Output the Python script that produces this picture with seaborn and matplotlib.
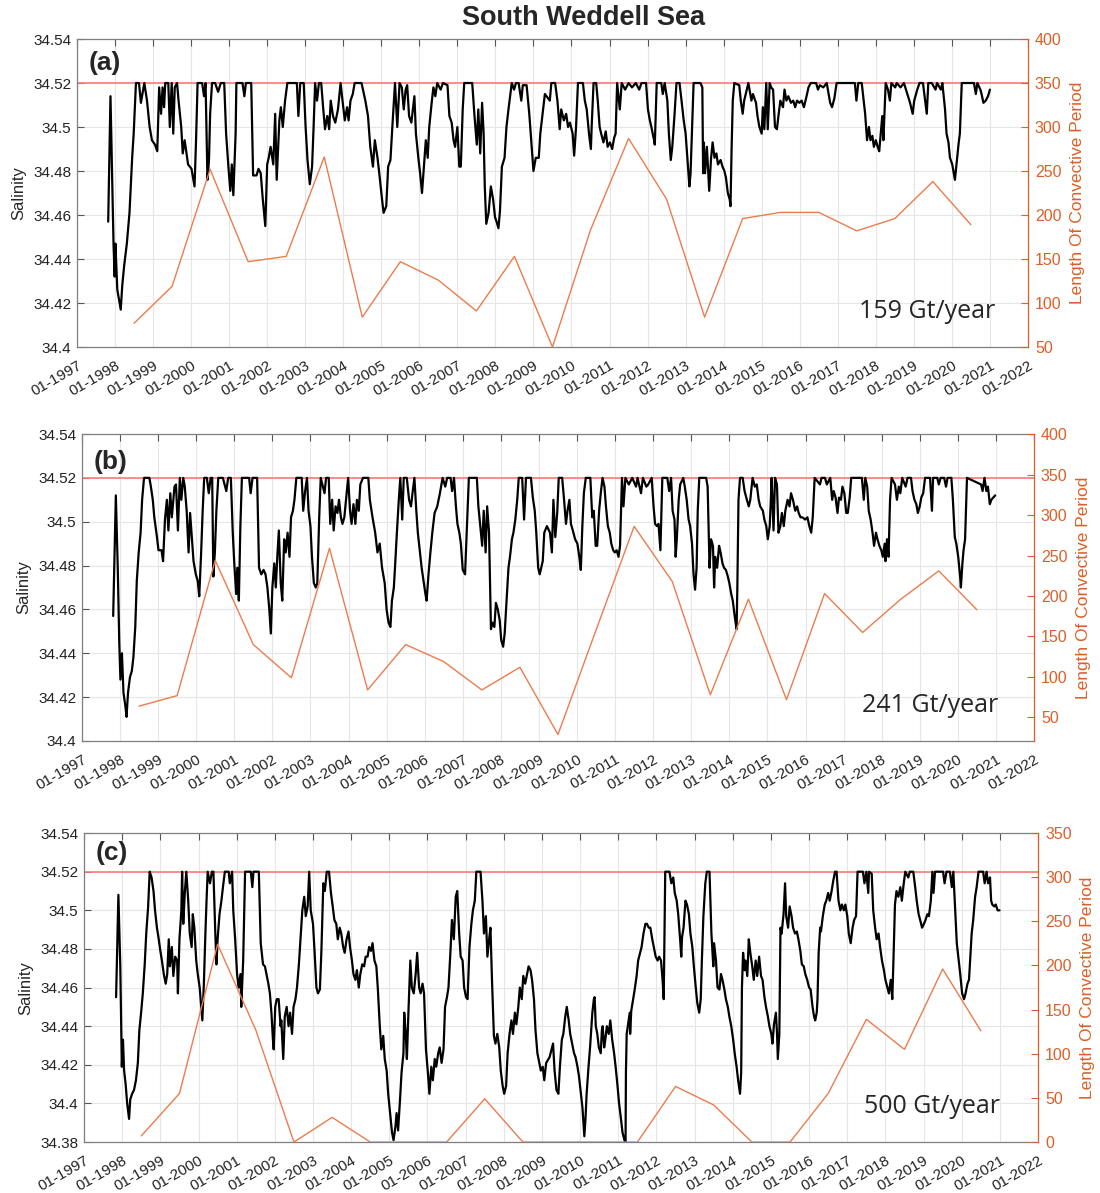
import matplotlib
matplotlib.use("Agg")
import matplotlib.pyplot as plt
import seaborn as sns

sns.set_theme(style="white")
plt.rcParams['font.family'] = ['Liberation Sans', 'DejaVu Sans']

THRESHOLD = 34.52
YEARS = list(range(1997, 2023))
CONV_YEARS = [1998.5, 1999.5, 2000.5, 2001.5, 2002.5, 2003.5, 2004.5, 2005.5,
              2006.5, 2007.5, 2008.5, 2009.5, 2010.5, 2011.5, 2012.5, 2013.5,
              2014.5, 2015.5, 2016.5, 2017.5, 2018.5, 2019.5, 2020.5]

# convective period length (days) per year
conv_a = [77, 119, 252, 147, 153, 266, 84, 147, 126, 91, 153, 50,
          183, 287, 218, 84, 196, 203, 203, 182, 196, 238, 189]
conv_b = [64, 77, 244, 140, 99, 259, 84, 140, 119, 84, 112, 29,
          158, 286, 218, 78, 196, 72, 203, 155, 196, 231, 183]
conv_c = [7, 55, 224, 127, 0, 28, 0, 0, 0, 49, 0, 0,
          0, 0, 63, 42, 0, 0, 55, 139, 105, 196, 126]

# salinity, panel (a) 159 Gt/year
sal_a_year = [
    1997.82, 1997.88, 1997.96, 1997.99, 1998.01, 1998.06, 1998.11, 1998.15, 1998.19, 1998.24,
    1998.31, 1998.38, 1998.45, 1998.49, 1998.55, 1998.63, 1998.68, 1998.77, 1998.84, 1998.91,
    1998.97, 1999.05, 1999.11, 1999.16, 1999.21, 1999.25, 1999.29, 1999.32, 1999.40, 1999.44,
    1999.49, 1999.53, 1999.57, 1999.63, 1999.67, 1999.74, 1999.78, 1999.83, 1999.92, 2000.01,
    2000.09, 2000.13, 2000.17, 2000.29, 2000.34, 2000.38, 2000.43, 2000.47, 2000.50, 2000.55,
    2000.63, 2000.71, 2000.78, 2000.87, 2000.92, 2000.98, 2001.03, 2001.07, 2001.11, 2001.17,
    2001.19, 2001.35, 2001.40, 2001.44, 2001.58, 2001.63, 2001.72, 2001.77, 2001.83, 2001.88,
    2001.95, 2002.00, 2002.04, 2002.09, 2002.16, 2002.21, 2002.25, 2002.32, 2002.36, 2002.41,
    2002.47, 2002.53, 2002.78, 2002.82, 2002.87, 2002.96, 2003.01, 2003.06, 2003.12, 2003.18,
    2003.22, 2003.26, 2003.31, 2003.36, 2003.42, 2003.47, 2003.52, 2003.58, 2003.63, 2003.67,
    2003.73, 2003.79, 2003.86, 2003.93, 2003.98, 2004.04, 2004.10, 2004.14, 2004.19, 2004.25,
    2004.30, 2004.48, 2004.58, 2004.65, 2004.71, 2004.78, 2004.83, 2004.90, 2004.94, 2005.02,
    2005.06, 2005.13, 2005.18, 2005.24, 2005.29, 2005.36, 2005.42, 2005.48, 2005.54, 2005.59,
    2005.64, 2005.68, 2005.73, 2005.79, 2005.87, 2005.91, 2005.98, 2006.02, 2006.07, 2006.12,
    2006.17, 2006.22, 2006.26, 2006.33, 2006.37, 2006.42, 2006.47, 2006.56, 2006.62, 2006.74,
    2006.79, 2006.85, 2006.90, 2006.94, 2007.00, 2007.05, 2007.09, 2007.14, 2007.18, 2007.39,
    2007.45, 2007.51, 2007.55, 2007.60, 2007.65, 2007.69, 2007.72, 2007.76, 2007.82, 2007.88,
    2007.94, 2007.99, 2008.03, 2008.08, 2008.12, 2008.17, 2008.24, 2008.29, 2008.35, 2008.43,
    2008.49, 2008.54, 2008.61, 2008.68, 2008.72, 2008.82, 2008.89, 2008.94, 2009.00, 2009.06,
    2009.14, 2009.18, 2009.30, 2009.43, 2009.47, 2009.57, 2009.63, 2009.69, 2009.73, 2009.80,
    2009.86, 2009.91, 2009.96, 2010.03, 2010.07, 2010.12, 2010.17, 2010.30, 2010.35, 2010.40,
    2010.46, 2010.51, 2010.53, 2010.58, 2010.65, 2010.69, 2010.74, 2010.78, 2010.84, 2010.90,
    2010.95, 2011.01, 2011.07, 2011.12, 2011.16, 2011.20, 2011.27, 2011.32, 2011.41, 2011.50,
    2011.59, 2011.69, 2011.78, 2011.84, 2011.96, 2012.01, 2012.06, 2012.10, 2012.17, 2012.19,
    2012.24, 2012.36, 2012.40, 2012.45, 2012.52, 2012.56, 2012.61, 2012.65, 2012.71, 2012.76,
    2012.84, 2012.88, 2012.95, 2013.00, 2013.05, 2013.10, 2013.13, 2013.18, 2013.21, 2013.39,
    2013.44, 2013.46, 2013.48, 2013.51, 2013.56, 2013.62, 2013.67, 2013.71, 2013.76, 2013.81,
    2013.85, 2013.92, 2013.97, 2014.02, 2014.06, 2014.11, 2014.16, 2014.18, 2014.21, 2014.24,
    2014.28, 2014.41, 2014.45, 2014.50, 2014.54, 2014.61, 2014.65, 2014.73, 2014.77, 2014.85,
    2014.89, 2014.94, 2015.00, 2015.03, 2015.07, 2015.12, 2015.16, 2015.21, 2015.25, 2015.30,
    2015.35, 2015.40, 2015.44, 2015.49, 2015.56, 2015.60, 2015.65, 2015.70, 2015.77, 2015.83,
    2015.88, 2015.93, 2015.99, 2016.05, 2016.11, 2016.18, 2016.23, 2016.29, 2016.43, 2016.48,
    2016.53, 2016.62, 2016.71, 2016.80, 2016.85, 2016.91, 2016.97, 2017.12, 2017.45, 2017.49,
    2017.54, 2017.63, 2017.68, 2017.72, 2017.77, 2017.82, 2017.86, 2017.91, 2017.95, 2018.00,
    2018.05, 2018.09, 2018.13, 2018.17, 2018.20, 2018.26, 2018.32, 2018.37, 2018.41, 2018.51,
    2018.55, 2018.65, 2018.74, 2018.83, 2018.90, 2018.97, 2019.01, 2019.09, 2019.15, 2019.24,
    2019.34, 2019.38, 2019.47, 2019.57, 2019.61, 2019.71, 2019.75, 2019.82, 2019.86, 2019.91,
    2019.95, 2020.01, 2020.05, 2020.08, 2020.14, 2020.18, 2020.21, 2020.26, 2020.58, 2020.63,
    2020.67, 2020.75, 2020.78, 2020.83, 2020.89, 2020.95, 2021.00]
sal_a_val = [
    34.457, 34.514, 34.447, 34.432, 34.447, 34.426, 34.421, 34.417, 34.428, 34.437,
    34.447, 34.461, 34.486, 34.497, 34.520, 34.520, 34.511, 34.520, 34.512, 34.500,
    34.494, 34.492, 34.489, 34.518, 34.506, 34.518, 34.509, 34.520, 34.520, 34.500,
    34.520, 34.497, 34.518, 34.520, 34.512, 34.500, 34.488, 34.494, 34.483, 34.481,
    34.473, 34.494, 34.520, 34.520, 34.514, 34.520, 34.476, 34.485, 34.506, 34.520,
    34.520, 34.516, 34.520, 34.520, 34.497, 34.482, 34.471, 34.483, 34.469, 34.497,
    34.520, 34.520, 34.514, 34.520, 34.520, 34.478, 34.478, 34.481, 34.479, 34.468,
    34.455, 34.483, 34.486, 34.491, 34.483, 34.506, 34.476, 34.503, 34.509, 34.500,
    34.512, 34.520, 34.520, 34.505, 34.520, 34.520, 34.500, 34.485, 34.474, 34.482,
    34.500, 34.520, 34.512, 34.520, 34.520, 34.509, 34.499, 34.505, 34.499, 34.512,
    34.505, 34.502, 34.508, 34.520, 34.512, 34.503, 34.509, 34.503, 34.512, 34.515,
    34.520, 34.520, 34.512, 34.505, 34.491, 34.482, 34.494, 34.486, 34.480, 34.467,
    34.461, 34.464, 34.482, 34.485, 34.500, 34.520, 34.500, 34.520, 34.518, 34.508,
    34.517, 34.519, 34.505, 34.502, 34.514, 34.497, 34.485, 34.479, 34.470, 34.482,
    34.494, 34.486, 34.500, 34.512, 34.518, 34.514, 34.520, 34.517, 34.520, 34.519,
    34.505, 34.502, 34.494, 34.491, 34.500, 34.482, 34.482, 34.508, 34.520, 34.520,
    34.505, 34.492, 34.508, 34.488, 34.511, 34.497, 34.473, 34.456, 34.461, 34.473,
    34.467, 34.459, 34.457, 34.454, 34.462, 34.482, 34.486, 34.500, 34.509, 34.520,
    34.517, 34.520, 34.520, 34.512, 34.519, 34.519, 34.506, 34.494, 34.480, 34.486,
    34.486, 34.497, 34.515, 34.512, 34.520, 34.520, 34.512, 34.499, 34.508, 34.503,
    34.506, 34.500, 34.502, 34.497, 34.487, 34.500, 34.520, 34.520, 34.512, 34.508,
    34.497, 34.490, 34.500, 34.520, 34.520, 34.512, 34.500, 34.497, 34.493, 34.498,
    34.491, 34.493, 34.490, 34.495, 34.497, 34.520, 34.508, 34.520, 34.517, 34.520,
    34.518, 34.520, 34.517, 34.520, 34.520, 34.508, 34.503, 34.500, 34.494, 34.492,
    34.520, 34.520, 34.515, 34.520, 34.512, 34.497, 34.485, 34.491, 34.506, 34.520,
    34.520, 34.514, 34.503, 34.497, 34.485, 34.473, 34.479, 34.505, 34.520, 34.520,
    34.518, 34.479, 34.493, 34.479, 34.491, 34.471, 34.486, 34.493, 34.486, 34.488,
    34.483, 34.485, 34.482, 34.480, 34.477, 34.470, 34.467, 34.464, 34.491, 34.512,
    34.520, 34.519, 34.512, 34.506, 34.512, 34.517, 34.520, 34.512, 34.515, 34.511,
    34.505, 34.500, 34.497, 34.509, 34.499, 34.520, 34.499, 34.520, 34.518, 34.517,
    34.500, 34.499, 34.505, 34.512, 34.509, 34.517, 34.512, 34.514, 34.511, 34.512,
    34.509, 34.512, 34.511, 34.512, 34.509, 34.514, 34.518, 34.520, 34.520, 34.517,
    34.519, 34.518, 34.520, 34.511, 34.509, 34.513, 34.520, 34.520, 34.520, 34.512,
    34.520, 34.520, 34.512, 34.506, 34.494, 34.500, 34.494, 34.496, 34.491, 34.494,
    34.491, 34.489, 34.497, 34.505, 34.494, 34.520, 34.517, 34.512, 34.520, 34.518,
    34.520, 34.518, 34.520, 34.515, 34.511, 34.506, 34.512, 34.517, 34.520, 34.520,
    34.506, 34.520, 34.520, 34.517, 34.520, 34.517, 34.520, 34.508, 34.497, 34.493,
    34.486, 34.483, 34.479, 34.476, 34.486, 34.493, 34.497, 34.520, 34.520, 34.515,
    34.520, 34.517, 34.515, 34.511, 34.512, 34.514, 34.517]

# salinity, panel (b) 241 Gt/year
sal_b_year = [
    1997.82, 1997.89, 1997.94, 1997.98, 1998.01, 1998.05, 1998.09, 1998.14, 1998.17, 1998.21,
    1998.26, 1998.31, 1998.35, 1998.40, 1998.44, 1998.49, 1998.54, 1998.58, 1998.63, 1998.77,
    1998.81, 1998.86, 1998.90, 1998.97, 1999.01, 1999.09, 1999.13, 1999.18, 1999.23, 1999.27,
    1999.32, 1999.36, 1999.43, 1999.47, 1999.52, 1999.57, 1999.61, 1999.66, 1999.70, 1999.75,
    1999.80, 1999.84, 1999.89, 1999.93, 1999.99, 2000.04, 2000.08, 2000.13, 2000.17, 2000.21,
    2000.28, 2000.33, 2000.38, 2000.42, 2000.45, 2000.49, 2000.53, 2000.58, 2000.70, 2000.79,
    2000.84, 2000.91, 2000.96, 2001.00, 2001.05, 2001.08, 2001.12, 2001.16, 2001.20, 2001.39,
    2001.43, 2001.48, 2001.60, 2001.65, 2001.71, 2001.77, 2001.82, 2001.87, 2001.92, 2001.96,
    2002.00, 2002.05, 2002.09, 2002.13, 2002.17, 2002.22, 2002.26, 2002.31, 2002.35, 2002.40,
    2002.45, 2002.49, 2002.54, 2002.58, 2002.63, 2002.77, 2002.81, 2002.86, 2002.91, 2002.95,
    2003.00, 2003.04, 2003.09, 2003.14, 2003.18, 2003.23, 2003.27, 2003.37, 2003.41, 2003.48,
    2003.52, 2003.57, 2003.61, 2003.66, 2003.71, 2003.75, 2003.80, 2003.84, 2003.89, 2003.95,
    2003.99, 2004.04, 2004.08, 2004.13, 2004.18, 2004.22, 2004.27, 2004.31, 2004.38, 2004.52,
    2004.56, 2004.63, 2004.70, 2004.76, 2004.82, 2004.88, 2004.95, 2005.00, 2005.05, 2005.10,
    2005.14, 2005.19, 2005.22, 2005.27, 2005.32, 2005.36, 2005.41, 2005.45, 2005.53, 2005.59,
    2005.64, 2005.68, 2005.73, 2005.78, 2005.82, 2005.87, 2005.92, 2005.97, 2006.02, 2006.05,
    2006.10, 2006.15, 2006.20, 2006.26, 2006.33, 2006.40, 2006.47, 2006.54, 2006.59, 2006.68,
    2006.72, 2006.77, 2006.82, 2006.86, 2006.91, 2006.95, 2007.00, 2007.06, 2007.11, 2007.16,
    2007.37, 2007.41, 2007.46, 2007.51, 2007.55, 2007.60, 2007.64, 2007.69, 2007.74, 2007.78,
    2007.83, 2007.87, 2007.92, 2007.97, 2008.01, 2008.06, 2008.10, 2008.15, 2008.20, 2008.24,
    2008.29, 2008.33, 2008.38, 2008.43, 2008.47, 2008.56, 2008.61, 2008.66, 2008.79, 2008.84,
    2008.89, 2008.93, 2008.98, 2009.02, 2009.10, 2009.14, 2009.21, 2009.29, 2009.34, 2009.38,
    2009.43, 2009.48, 2009.52, 2009.61, 2009.66, 2009.71, 2009.75, 2009.80, 2009.84, 2009.89,
    2009.95, 2010.01, 2010.06, 2010.10, 2010.14, 2010.18, 2010.23, 2010.35, 2010.40, 2010.44,
    2010.49, 2010.53, 2010.58, 2010.63, 2010.67, 2010.72, 2010.76, 2010.81, 2010.86, 2010.90,
    2010.95, 2010.99, 2011.04, 2011.09, 2011.13, 2011.18, 2011.22, 2011.27, 2011.36, 2011.45,
    2011.55, 2011.59, 2011.68, 2011.73, 2011.82, 2011.87, 2011.96, 2012.01, 2012.05, 2012.10,
    2012.14, 2012.19, 2012.24, 2012.37, 2012.42, 2012.47, 2012.51, 2012.56, 2012.59, 2012.62,
    2012.67, 2012.71, 2012.79, 2012.83, 2012.88, 2012.93, 2012.97, 2013.02, 2013.06, 2013.10,
    2013.14, 2013.17, 2013.21, 2013.39, 2013.43, 2013.48, 2013.52, 2013.57, 2013.60, 2013.63,
    2013.68, 2013.73, 2013.77, 2013.82, 2013.86, 2013.91, 2013.96, 2014.00, 2014.05, 2014.09,
    2014.14, 2014.19, 2014.21, 2014.24, 2014.28, 2014.35, 2014.40, 2014.46, 2014.51, 2014.55,
    2014.61, 2014.67, 2014.72, 2014.77, 2014.81, 2014.88, 2014.92, 2014.97, 2015.01, 2015.06,
    2015.09, 2015.11, 2015.16, 2015.20, 2015.25, 2015.29, 2015.34, 2015.38, 2015.43, 2015.47,
    2015.53, 2015.58, 2015.62, 2015.67, 2015.73, 2015.78, 2015.82, 2015.87, 2015.92, 2015.99,
    2016.05, 2016.10, 2016.15, 2016.19, 2016.24, 2016.38, 2016.42, 2016.51, 2016.56, 2016.65,
    2016.70, 2016.74, 2016.79, 2016.84, 2016.88, 2016.93, 2016.97, 2017.02, 2017.07, 2017.11,
    2017.16, 2017.20, 2017.48, 2017.53, 2017.57, 2017.62, 2017.66, 2017.71, 2017.76, 2017.80,
    2017.85, 2017.89, 2017.94, 2017.99, 2018.03, 2018.08, 2018.10, 2018.14, 2018.18, 2018.22,
    2018.26, 2018.35, 2018.40, 2018.45, 2018.49, 2018.54, 2018.63, 2018.68, 2018.77, 2018.81,
    2018.86, 2018.91, 2018.95, 2019.00, 2019.04, 2019.09, 2019.14, 2019.27, 2019.32, 2019.35,
    2019.46, 2019.50, 2019.55, 2019.64, 2019.69, 2019.73, 2019.83, 2019.87, 2019.92, 2019.96,
    2020.01, 2020.06, 2020.08, 2020.12, 2020.15, 2020.19, 2020.24, 2020.61, 2020.65, 2020.70,
    2020.75, 2020.79, 2020.84, 2020.88, 2020.93, 2020.98]
sal_b_val = [
    34.457, 34.512, 34.479, 34.445, 34.428, 34.440, 34.422, 34.416, 34.411, 34.422,
    34.429, 34.432, 34.438, 34.452, 34.473, 34.486, 34.495, 34.510, 34.520, 34.520,
    34.516, 34.510, 34.502, 34.493, 34.487, 34.487, 34.482, 34.501, 34.510, 34.496,
    34.513, 34.502, 34.516, 34.517, 34.496, 34.520, 34.510, 34.520, 34.516, 34.505,
    34.486, 34.504, 34.492, 34.482, 34.476, 34.473, 34.466, 34.486, 34.505, 34.520,
    34.520, 34.513, 34.520, 34.520, 34.475, 34.486, 34.505, 34.520, 34.520, 34.514,
    34.520, 34.520, 34.495, 34.481, 34.467, 34.479, 34.464, 34.498, 34.520, 34.520,
    34.513, 34.520, 34.520, 34.479, 34.476, 34.478, 34.476, 34.470, 34.460, 34.449,
    34.470, 34.481, 34.470, 34.484, 34.496, 34.472, 34.464, 34.492, 34.486, 34.495,
    34.484, 34.502, 34.505, 34.510, 34.520, 34.520, 34.505, 34.514, 34.520, 34.505,
    34.498, 34.484, 34.472, 34.470, 34.472, 34.502, 34.520, 34.513, 34.520, 34.520,
    34.499, 34.510, 34.496, 34.507, 34.504, 34.510, 34.502, 34.499, 34.502, 34.513,
    34.520, 34.505, 34.499, 34.508, 34.499, 34.510, 34.505, 34.517, 34.520, 34.520,
    34.510, 34.502, 34.495, 34.486, 34.490, 34.479, 34.472, 34.460, 34.454, 34.452,
    34.464, 34.470, 34.479, 34.495, 34.510, 34.520, 34.501, 34.520, 34.520, 34.510,
    34.507, 34.513, 34.520, 34.505, 34.495, 34.487, 34.479, 34.473, 34.467, 34.464,
    34.476, 34.486, 34.495, 34.504, 34.507, 34.513, 34.520, 34.516, 34.520, 34.520,
    34.514, 34.520, 34.507, 34.499, 34.495, 34.490, 34.478, 34.476, 34.498, 34.520,
    34.520, 34.507, 34.498, 34.489, 34.505, 34.486, 34.507, 34.495, 34.451, 34.454,
    34.452, 34.463, 34.460, 34.455, 34.446, 34.443, 34.449, 34.464, 34.479, 34.484,
    34.492, 34.495, 34.501, 34.510, 34.520, 34.520, 34.501, 34.520, 34.520, 34.511,
    34.505, 34.495, 34.479, 34.476, 34.482, 34.495, 34.498, 34.495, 34.486, 34.510,
    34.493, 34.504, 34.520, 34.520, 34.510, 34.499, 34.505, 34.510, 34.499, 34.496,
    34.492, 34.490, 34.484, 34.478, 34.498, 34.513, 34.520, 34.520, 34.502, 34.505,
    34.489, 34.489, 34.505, 34.514, 34.520, 34.516, 34.507, 34.498, 34.495, 34.490,
    34.487, 34.486, 34.487, 34.484, 34.489, 34.520, 34.507, 34.520, 34.517, 34.520,
    34.516, 34.520, 34.513, 34.520, 34.516, 34.517, 34.520, 34.507, 34.499, 34.498,
    34.499, 34.487, 34.520, 34.520, 34.514, 34.520, 34.505, 34.501, 34.484, 34.492,
    34.510, 34.517, 34.520, 34.516, 34.510, 34.501, 34.498, 34.490, 34.476, 34.469,
    34.479, 34.505, 34.520, 34.520, 34.516, 34.479, 34.492, 34.489, 34.470, 34.484,
    34.479, 34.489, 34.486, 34.481, 34.479, 34.478, 34.475, 34.472, 34.467, 34.464,
    34.457, 34.451, 34.470, 34.510, 34.520, 34.520, 34.514, 34.510, 34.507, 34.510,
    34.520, 34.516, 34.517, 34.510, 34.507, 34.505, 34.501, 34.498, 34.492, 34.498,
    34.510, 34.520, 34.496, 34.520, 34.517, 34.495, 34.498, 34.504, 34.498, 34.505,
    34.510, 34.507, 34.513, 34.510, 34.505, 34.507, 34.504, 34.502, 34.502, 34.501,
    34.502, 34.498, 34.495, 34.502, 34.520, 34.517, 34.520, 34.520, 34.517, 34.520,
    34.510, 34.514, 34.511, 34.504, 34.511, 34.510, 34.516, 34.513, 34.504, 34.504,
    34.511, 34.520, 34.520, 34.510, 34.520, 34.516, 34.505, 34.501, 34.495, 34.489,
    34.495, 34.492, 34.489, 34.487, 34.484, 34.490, 34.482, 34.492, 34.484, 34.510,
    34.520, 34.517, 34.510, 34.516, 34.513, 34.520, 34.516, 34.520, 34.520, 34.514,
    34.510, 34.508, 34.504, 34.507, 34.511, 34.513, 34.520, 34.520, 34.505, 34.520,
    34.520, 34.517, 34.520, 34.520, 34.516, 34.520, 34.520, 34.510, 34.493, 34.490,
    34.484, 34.475, 34.470, 34.481, 34.487, 34.492, 34.520, 34.517, 34.514, 34.520,
    34.514, 34.516, 34.508, 34.510, 34.511, 34.512]

# salinity, panel (c) 500 Gt/year
sal_c_year = [
    1997.84, 1997.90, 1997.95, 1997.99, 1998.02, 1998.05, 1998.09, 1998.13, 1998.18, 1998.21,
    1998.26, 1998.31, 1998.36, 1998.41, 1998.45, 1998.50, 1998.54, 1998.59, 1998.63, 1998.68,
    1998.72, 1998.77, 1998.82, 1998.86, 1998.91, 1998.95, 1999.00, 1999.04, 1999.09, 1999.14,
    1999.18, 1999.22, 1999.25, 1999.30, 1999.34, 1999.39, 1999.44, 1999.46, 1999.50, 1999.55,
    1999.57, 1999.60, 1999.64, 1999.68, 1999.73, 1999.77, 1999.82, 1999.85, 1999.89, 1999.94,
    1999.98, 2000.03, 2000.07, 2000.10, 2000.14, 2000.18, 2000.21, 2000.24, 2000.30, 2000.35,
    2000.39, 2000.44, 2000.47, 2000.50, 2000.55, 2000.60, 2000.64, 2000.69, 2000.79, 2000.82,
    2000.88, 2000.91, 2000.96, 2001.01, 2001.05, 2001.10, 2001.12, 2001.17, 2001.22, 2001.37,
    2001.41, 2001.44, 2001.58, 2001.63, 2001.69, 2001.74, 2001.78, 2001.83, 2001.87, 2001.91,
    2001.95, 2001.97, 2002.01, 2002.05, 2002.10, 2002.15, 2002.17, 2002.22, 2002.26, 2002.31,
    2002.36, 2002.40, 2002.45, 2002.49, 2002.54, 2002.58, 2002.63, 2002.68, 2002.72, 2002.77,
    2002.81, 2002.86, 2002.90, 2002.94, 2003.00, 2003.04, 2003.09, 2003.13, 2003.18, 2003.22,
    2003.27, 2003.31, 2003.36, 2003.42, 2003.47, 2003.51, 2003.56, 2003.61, 2003.65, 2003.70,
    2003.74, 2003.79, 2003.83, 2003.88, 2003.93, 2003.97, 2004.02, 2004.06, 2004.11, 2004.15,
    2004.20, 2004.24, 2004.29, 2004.34, 2004.38, 2004.43, 2004.47, 2004.52, 2004.56, 2004.61,
    2004.66, 2004.70, 2004.75, 2004.79, 2004.84, 2004.88, 2004.93, 2004.97, 2005.02, 2005.07,
    2005.11, 2005.16, 2005.19, 2005.23, 2005.28, 2005.32, 2005.37, 2005.39, 2005.43, 2005.46,
    2005.50, 2005.55, 2005.59, 2005.64, 2005.69, 2005.73, 2005.78, 2005.82, 2005.87, 2005.91,
    2005.96, 2006.01, 2006.05, 2006.10, 2006.14, 2006.19, 2006.23, 2006.28, 2006.32, 2006.37,
    2006.42, 2006.46, 2006.51, 2006.55, 2006.60, 2006.64, 2006.69, 2006.74, 2006.78, 2006.83,
    2006.87, 2006.92, 2006.96, 2007.01, 2007.05, 2007.10, 2007.15, 2007.19, 2007.24, 2007.28,
    2007.39, 2007.44, 2007.48, 2007.53, 2007.57, 2007.62, 2007.65, 2007.69, 2007.74, 2007.78,
    2007.83, 2007.88, 2007.92, 2007.97, 2008.01, 2008.06, 2008.10, 2008.15, 2008.20, 2008.24,
    2008.29, 2008.33, 2008.38, 2008.42, 2008.47, 2008.51, 2008.56, 2008.61, 2008.65, 2008.70,
    2008.74, 2008.79, 2008.83, 2008.88, 2008.93, 2008.97, 2009.02, 2009.06, 2009.11, 2009.20,
    2009.29, 2009.33, 2009.38, 2009.43, 2009.47, 2009.52, 2009.56, 2009.61, 2009.65, 2009.70,
    2009.74, 2009.79, 2009.84, 2009.88, 2009.93, 2009.97, 2010.02, 2010.06, 2010.11, 2010.14,
    2010.17, 2010.22, 2010.26, 2010.29, 2010.32, 2010.36, 2010.38, 2010.41, 2010.45, 2010.49,
    2010.54, 2010.57, 2010.59, 2010.63, 2010.66, 2010.70, 2010.75, 2010.79, 2010.84, 2010.89,
    2010.93, 2010.98, 2011.02, 2011.07, 2011.11, 2011.16, 2011.19, 2011.20, 2011.22, 2011.25,
    2011.30, 2011.31, 2011.34, 2011.39, 2011.43, 2011.48, 2011.52, 2011.57, 2011.61, 2011.66,
    2011.71, 2011.75, 2011.80, 2011.84, 2011.89, 2011.93, 2011.98, 2012.03, 2012.07, 2012.12,
    2012.16, 2012.19, 2012.23, 2012.34, 2012.39, 2012.44, 2012.48, 2012.53, 2012.57, 2012.62,
    2012.65, 2012.67, 2012.71, 2012.76, 2012.80, 2012.85, 2012.89, 2012.94, 2012.98, 2013.03,
    2013.07, 2013.12, 2013.16, 2013.19, 2013.23, 2013.28, 2013.32, 2013.39, 2013.44, 2013.49,
    2013.51, 2013.56, 2013.60, 2013.65, 2013.69, 2013.73, 2013.78, 2013.82, 2013.87, 2013.91,
    2013.96, 2014.01, 2014.05, 2014.10, 2014.14, 2014.19, 2014.22, 2014.24, 2014.27, 2014.31,
    2014.33, 2014.38, 2014.42, 2014.46, 2014.51, 2014.55, 2014.60, 2014.64, 2014.69, 2014.74,
    2014.78, 2014.83, 2014.87, 2014.92, 2014.96, 2015.01, 2015.04, 2015.08, 2015.13, 2015.16,
    2015.18, 2015.22, 2015.25, 2015.28, 2015.33, 2015.37, 2015.40, 2015.45, 2015.49, 2015.54,
    2015.58, 2015.63, 2015.68, 2015.72, 2015.77, 2015.81, 2015.86, 2015.90, 2015.95, 2016.00,
    2016.04, 2016.09, 2016.13, 2016.16, 2016.20, 2016.22, 2016.25, 2016.29, 2016.31, 2016.36,
    2016.41, 2016.45, 2016.50, 2016.54, 2016.59, 2016.63, 2016.68, 2016.72, 2016.77, 2016.82,
    2016.86, 2016.91, 2016.95, 2017.00, 2017.04, 2017.09, 2017.14, 2017.18, 2017.23, 2017.27,
    2017.41, 2017.45, 2017.50, 2017.55, 2017.57, 2017.64, 2017.68, 2017.73, 2017.77, 2017.82,
    2017.86, 2017.91, 2017.96, 2018.00, 2018.05, 2018.09, 2018.14, 2018.18, 2018.21, 2018.25,
    2018.29, 2018.34, 2018.39, 2018.43, 2018.48, 2018.52, 2018.60, 2018.64, 2018.73, 2018.78,
    2018.82, 2018.87, 2018.91, 2018.96, 2019.01, 2019.05, 2019.10, 2019.14, 2019.19, 2019.23,
    2019.26, 2019.30, 2019.51, 2019.55, 2019.60, 2019.69, 2019.74, 2019.78, 2019.83, 2019.87,
    2019.92, 2019.96, 2020.01, 2020.06, 2020.10, 2020.15, 2020.19, 2020.22, 2020.26, 2020.30,
    2020.35, 2020.39, 2020.44, 2020.56, 2020.60, 2020.65, 2020.69, 2020.74, 2020.77, 2020.80,
    2020.85, 2020.89, 2020.94, 2020.99]
sal_c_val = [
    34.455, 34.508, 34.471, 34.419, 34.433, 34.417, 34.410, 34.400, 34.392, 34.402,
    34.405, 34.407, 34.412, 34.421, 34.438, 34.448, 34.457, 34.472, 34.488, 34.502,
    34.520, 34.517, 34.510, 34.500, 34.491, 34.486, 34.479, 34.474, 34.467, 34.462,
    34.467, 34.485, 34.471, 34.481, 34.466, 34.476, 34.474, 34.457, 34.485, 34.500,
    34.520, 34.493, 34.509, 34.520, 34.505, 34.488, 34.481, 34.498, 34.491, 34.474,
    34.467, 34.460, 34.450, 34.443, 34.462, 34.488, 34.505, 34.520, 34.514, 34.520,
    34.520, 34.488, 34.472, 34.485, 34.498, 34.505, 34.512, 34.520, 34.520, 34.514,
    34.520, 34.500, 34.485, 34.467, 34.460, 34.467, 34.450, 34.474, 34.520, 34.520,
    34.512, 34.520, 34.520, 34.483, 34.472, 34.471, 34.467, 34.462, 34.457, 34.447,
    34.433, 34.428, 34.450, 34.454, 34.454, 34.440, 34.443, 34.423, 34.445, 34.450,
    34.440, 34.447, 34.436, 34.450, 34.454, 34.460, 34.472, 34.488, 34.500, 34.507,
    34.497, 34.502, 34.520, 34.500, 34.493, 34.479, 34.460, 34.457, 34.459, 34.479,
    34.514, 34.510, 34.520, 34.520, 34.509, 34.503, 34.495, 34.493, 34.485, 34.491,
    34.488, 34.481, 34.478, 34.485, 34.489, 34.481, 34.474, 34.467, 34.464, 34.469,
    34.460, 34.467, 34.472, 34.471, 34.476, 34.476, 34.481, 34.479, 34.483, 34.474,
    34.471, 34.459, 34.440, 34.428, 34.435, 34.423, 34.417, 34.405, 34.395, 34.385,
    34.381, 34.388, 34.395, 34.386, 34.402, 34.416, 34.426, 34.447, 34.436, 34.423,
    34.447, 34.474, 34.460, 34.457, 34.467, 34.478, 34.460, 34.457, 34.462, 34.457,
    34.428, 34.416, 34.405, 34.419, 34.412, 34.423, 34.419, 34.426, 34.429, 34.421,
    34.428, 34.450, 34.455, 34.460, 34.478, 34.495, 34.485, 34.507, 34.510, 34.488,
    34.476, 34.474, 34.460, 34.455, 34.454, 34.481, 34.493, 34.500, 34.505, 34.520,
    34.520, 34.505, 34.488, 34.497, 34.476, 34.486, 34.491, 34.464, 34.435, 34.431,
    34.436, 34.429, 34.417, 34.409, 34.405, 34.409, 34.426, 34.436, 34.443, 34.436,
    34.447, 34.441, 34.450, 34.460, 34.454, 34.466, 34.462, 34.467, 34.471, 34.469,
    34.464, 34.454, 34.438, 34.426, 34.421, 34.417, 34.419, 34.412, 34.421, 34.424,
    34.431, 34.417, 34.407, 34.405, 34.419, 34.433, 34.436, 34.445, 34.450, 34.443,
    34.436, 34.431, 34.426, 34.424, 34.419, 34.414, 34.405, 34.398, 34.383, 34.392,
    34.405, 34.419, 34.429, 34.438, 34.447, 34.454, 34.455, 34.440, 34.436, 34.429,
    34.426, 34.438, 34.440, 34.429, 34.433, 34.440, 34.436, 34.443, 34.433, 34.426,
    34.419, 34.409, 34.400, 34.392, 34.385, 34.381, 34.380, 34.416, 34.436, 34.440,
    34.447, 34.436, 34.448, 34.454, 34.459, 34.466, 34.474, 34.478, 34.481, 34.488,
    34.493, 34.493, 34.491, 34.491, 34.485, 34.481, 34.476, 34.474, 34.476, 34.474,
    34.464, 34.454, 34.520, 34.520, 34.514, 34.517, 34.509, 34.505, 34.498, 34.485,
    34.476, 34.486, 34.491, 34.505, 34.503, 34.498, 34.488, 34.481, 34.471, 34.460,
    34.452, 34.447, 34.454, 34.474, 34.497, 34.514, 34.520, 34.520, 34.488, 34.471,
    34.483, 34.474, 34.460, 34.459, 34.467, 34.464, 34.459, 34.454, 34.450, 34.445,
    34.440, 34.433, 34.426, 34.419, 34.412, 34.405, 34.416, 34.460, 34.478, 34.469,
    34.474, 34.466, 34.485, 34.478, 34.471, 34.464, 34.474, 34.466, 34.476, 34.466,
    34.464, 34.455, 34.450, 34.445, 34.440, 34.436, 34.431, 34.441, 34.447, 34.436,
    34.423, 34.436, 34.491, 34.488, 34.498, 34.514, 34.497, 34.491, 34.502, 34.497,
    34.491, 34.488, 34.489, 34.485, 34.479, 34.472, 34.471, 34.467, 34.464, 34.460,
    34.459, 34.450, 34.445, 34.443, 34.447, 34.454, 34.478, 34.491, 34.489, 34.497,
    34.503, 34.505, 34.509, 34.505, 34.510, 34.515, 34.520, 34.520, 34.505, 34.500,
    34.503, 34.500, 34.503, 34.497, 34.488, 34.483, 34.491, 34.495, 34.497, 34.520,
    34.520, 34.514, 34.520, 34.509, 34.520, 34.519, 34.500, 34.491, 34.485, 34.488,
    34.481, 34.474, 34.469, 34.464, 34.460, 34.457, 34.464, 34.454, 34.474, 34.503,
    34.510, 34.507, 34.512, 34.505, 34.514, 34.520, 34.517, 34.520, 34.520, 34.512,
    34.505, 34.498, 34.495, 34.491, 34.493, 34.495, 34.498, 34.497, 34.505, 34.520,
    34.509, 34.520, 34.520, 34.514, 34.520, 34.520, 34.512, 34.520, 34.500, 34.483,
    34.474, 34.467, 34.457, 34.454, 34.457, 34.462, 34.464, 34.474, 34.488, 34.495,
    34.507, 34.512, 34.520, 34.520, 34.514, 34.520, 34.514, 34.517, 34.505, 34.503,
    34.502, 34.503, 34.500, 34.500]

ORANGE = '#DE5F26'
ORANGE_LINE = '#EC7C4E'
GRID = '#E6E6E6'
SPINE = '#7F7F7F'

fig = plt.figure(figsize=(11, 11.93), dpi=100)

panels = [
    dict(rect=[0.0700, 0.7091, 0.8645, 0.2582], year=sal_a_year, val=sal_a_val, conv=conv_a,
         slim=(34.40, 34.54), clim=(50, 400), cticks=[50, 100, 150, 200, 250, 300, 350, 400],
         tag='(a)', tag_y=0.922, note='159 Gt/year', note_x=0.966),
    dict(rect=[0.0745, 0.3789, 0.8655, 0.2573], year=sal_b_year, val=sal_b_val, conv=conv_b,
         slim=(34.40, 34.54), clim=(21, 400), cticks=[50, 100, 150, 200, 250, 300, 350, 400],
         tag='(b)', tag_y=0.910, note='241 Gt/year', note_x=0.962),
    dict(rect=[0.0764, 0.0427, 0.8673, 0.2590], year=sal_c_year, val=sal_c_val, conv=conv_c,
         slim=(34.38, 34.54), clim=(0, 350), cticks=[0, 50, 100, 150, 200, 250, 300, 350],
         tag='(c)', tag_y=0.935, note='500 Gt/year', note_x=0.960),
]

for p in panels:
    ax = fig.add_axes(p['rect'])
    ax.axhline(THRESHOLD, color='#FF7A7A', lw=1.2, zorder=2)
    sns.lineplot(x=p['year'], y=p['val'], ax=ax, color='black', lw=1.6,
                 estimator=None, sort=False, zorder=3)
    ax.set_xlim(1997, 2022)
    ax.set_ylim(*p['slim'])
    ax.set_xticks(YEARS)
    ax.set_xticklabels([f'01-{y}' for y in YEARS], rotation=30, ha='right',
                       rotation_mode='anchor', fontsize=11, color='#222222')
    lo, hi = p['slim']
    yt = [round(lo + 0.02 * i, 2) for i in range(int(round((hi - lo) / 0.02)) + 1)]
    ax.set_yticks(yt)
    ax.set_yticklabels([f'{v:g}' for v in yt], fontsize=11, color='#222222')
    ax.grid(True, color=GRID, lw=0.8)
    ax.set_axisbelow(True)
    ax.tick_params(axis='both', direction='in', length=5, width=0.8, color='#555555',
                   top=True, right=False, pad=4)
    ax.tick_params(axis='x', pad=8)
    ax.set_ylabel('Salinity', fontsize=12, labelpad=5)
    ax.set_xlabel('')
    for s in ['left', 'top', 'bottom']:
        ax.spines[s].set_color(SPINE)
        ax.spines[s].set_linewidth(0.9)
    ax.spines['right'].set_visible(False)
    ax.text(0.012, p['tag_y'], p['tag'], transform=ax.transAxes, fontsize=19,
            fontweight='bold', va='center', ha='left')
    ax.text(p['note_x'], 0.115, p['note'], transform=ax.transAxes, fontsize=18,
            family=['Open Sans', 'DejaVu Sans'], va='center', ha='right')

    ax2 = ax.twinx()
    sns.lineplot(x=CONV_YEARS, y=p['conv'], ax=ax2, color=ORANGE_LINE, lw=1.0)
    ax2.set_ylim(*p['clim'])
    ax2.set_yticks(p['cticks'])
    ax2.set_yticklabels([str(v) for v in p['cticks']], fontsize=11.5, color=ORANGE)
    ax2.tick_params(axis='y', direction='in', length=5, width=0.8, color=ORANGE, pad=5)
    ax2.set_ylabel('Length Of Convective Period', fontsize=12.5, color=ORANGE, labelpad=6)
    ax2.grid(False)
    ax2.spines['right'].set_color(ORANGE)
    ax2.spines['right'].set_linewidth(0.9)
    for s in ['left', 'top', 'bottom']:
        ax2.spines[s].set_visible(False)

fig.text(0.530, 0.9853, 'South Weddell Sea', ha='center', va='center',
         fontsize=19.5, fontweight='bold')

fig.savefig('out.png', dpi=100)
